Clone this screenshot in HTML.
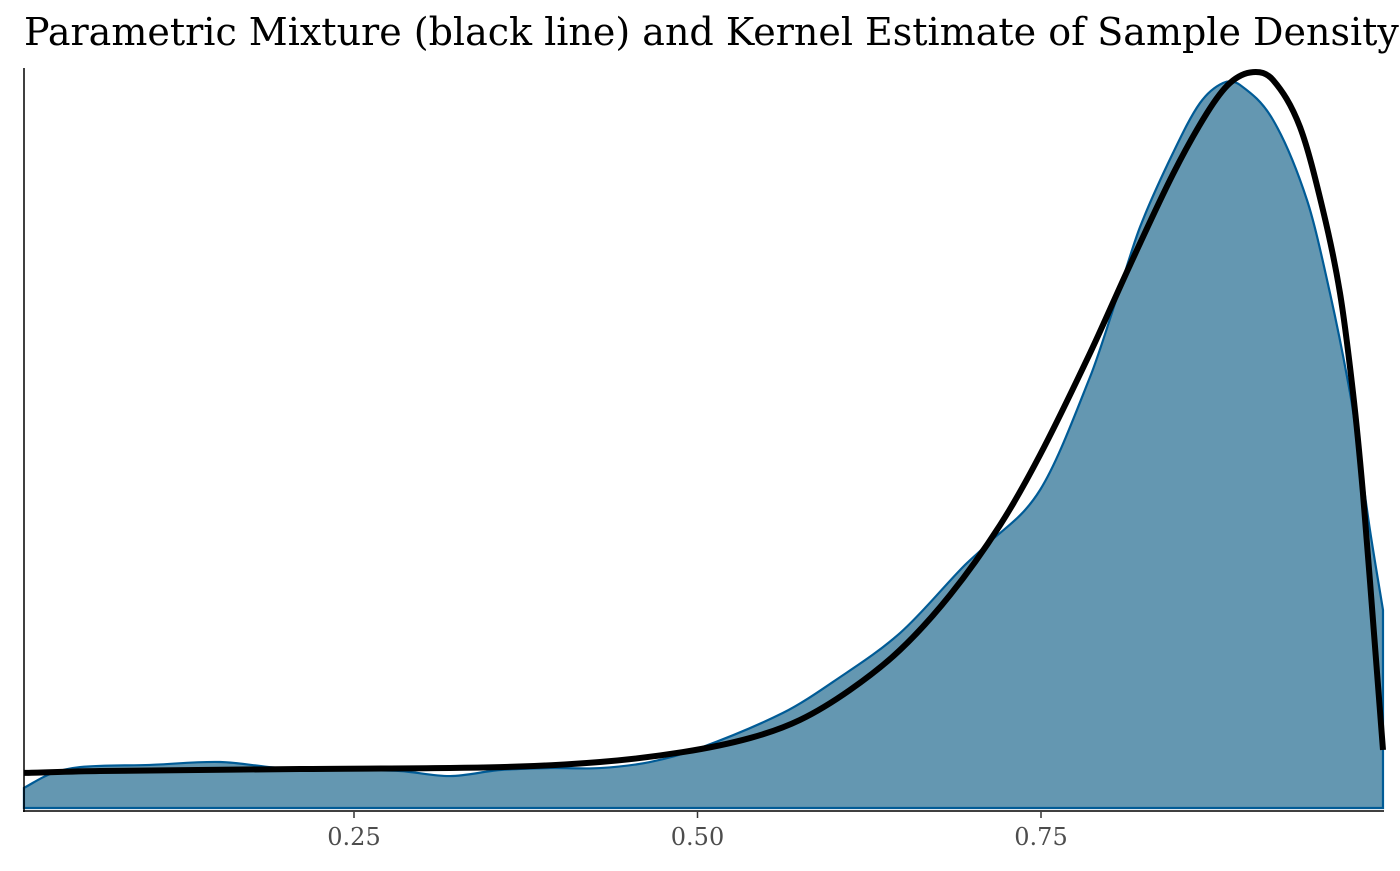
<!DOCTYPE html>
<html><head><meta charset="utf-8"><style>
body{margin:0;background:#fff;}
svg text{font-family:"DejaVu Serif","Liberation Serif",serif;}
</style></head><body>
<svg id="chart" width="1400" height="866" xmlns="http://www.w3.org/2000/svg">
<text x="24" y="45" style="font-size:38px" fill="#000">Parametric Mixture (black line) and Kernel Estimate of Sample Density</text>
<g id="plot"></g>
</svg>
<script>
const kernelX=[0.0098,0.0287,0.0506,0.1015,0.1525,0.1961,0.2471,0.2835,0.3199,0.3563,0.3926,0.4290,0.4654,0.5018,0.5622,0.5986,0.6474,0.6932,0.7078,0.7493,0.7857,0.8053,0.8221,0.8461,0.8657,0.8825,0.8948,0.9189,0.9436,0.9603,0.9749,0.9822,0.9894,0.9989];
const kernelY=[0.083,0.140,0.169,0.178,0.190,0.165,0.157,0.153,0.132,0.157,0.165,0.165,0.190,0.248,0.393,0.521,0.723,0.996,1.074,1.314,1.781,2.110,2.401,2.707,2.913,2.996,2.988,2.843,2.512,2.128,1.715,1.438,1.149,0.818];
const mixX=[0.0098,0.0651,0.2107,0.3563,0.4290,0.4894,0.5382,0.5746,0.6110,0.6474,0.6838,0.7202,0.7493,0.7857,0.8148,0.8461,0.8708,0.8875,0.9043,0.9189,0.9385,0.9552,0.9676,0.9771,0.9843,0.9916,0.9989];
const mixY=[0.145,0.153,0.161,0.169,0.190,0.231,0.289,0.364,0.488,0.653,0.880,1.169,1.459,1.880,2.244,2.620,2.872,2.996,3.041,3.008,2.814,2.471,2.128,1.715,1.302,0.777,0.240];
const ticks=[0.25,0.50,0.75];
const tickLabels=["0.25","0.50","0.75"];
const sx=v=>10.5+v*1374;
const sy=v=>808-v*242;
const NS="http://www.w3.org/2000/svg";
const g=document.getElementById('plot');
function mk(t,a){const e=document.createElementNS(NS,t);for(const k in a)e.setAttribute(k,a[k]);g.appendChild(e);return e;}
function smooth(xs,ys){const p=xs.map((x,i)=>[sx(x),sy(ys[i])]);const n=p.length;
const m=p.map((q,i)=>{const a=p[Math.max(0,i-1)],b=p[Math.min(n-1,i+1)];return (b[1]-a[1])/(b[0]-a[0]);});
let d="M"+p[0][0]+","+p[0][1];
for(let i=0;i<n-1;i++){const p1=p[i],p2=p[i+1],h=(p2[0]-p1[0])/3;
d+=" C"+(p1[0]+h)+","+(p1[1]+m[i]*h)+" "+(p2[0]-h)+","+(p2[1]-m[i+1]*h)+" "+p2[0]+","+p2[1];}return d;}
const kd=smooth(kernelX,kernelY);
const last=kernelX.length-1;
const area=mk('path',{d:kd+" L"+sx(kernelX[last])+","+sy(0)+" L"+sx(kernelX[0])+","+sy(0)+" Z",fill:"#6497b1",stroke:"none"});


const kl=mk('path',{d:kd+" L"+sx(kernelX[last])+","+sy(0)+" L"+sx(kernelX[0])+","+sy(0)+" Z",fill:"none",stroke:"#005b96","stroke-width":2.2});


const ml=mk('path',{d:smooth(mixX,mixY),fill:"none",stroke:"#000","stroke-width":6});


const ya=mk('line',{x1:24,y1:68,x2:24,y2:812,stroke:"#000","stroke-width":1.5});


const xa=mk('line',{x1:23,y1:811,x2:1384,y2:811,stroke:"#000","stroke-width":1.5});


ticks.forEach((t,i)=>{
const tk=mk('line',{x1:sx(t),y1:812,x2:sx(t),y2:818,stroke:"#333","stroke-width":1.5});


const tl=mk('text',{x:sx(t),y:845,"text-anchor":"middle",fill:"#4d4d4d",style:"font-size:24px"});
tl.textContent=tickLabels[i];


});
</script>
</body></html>
